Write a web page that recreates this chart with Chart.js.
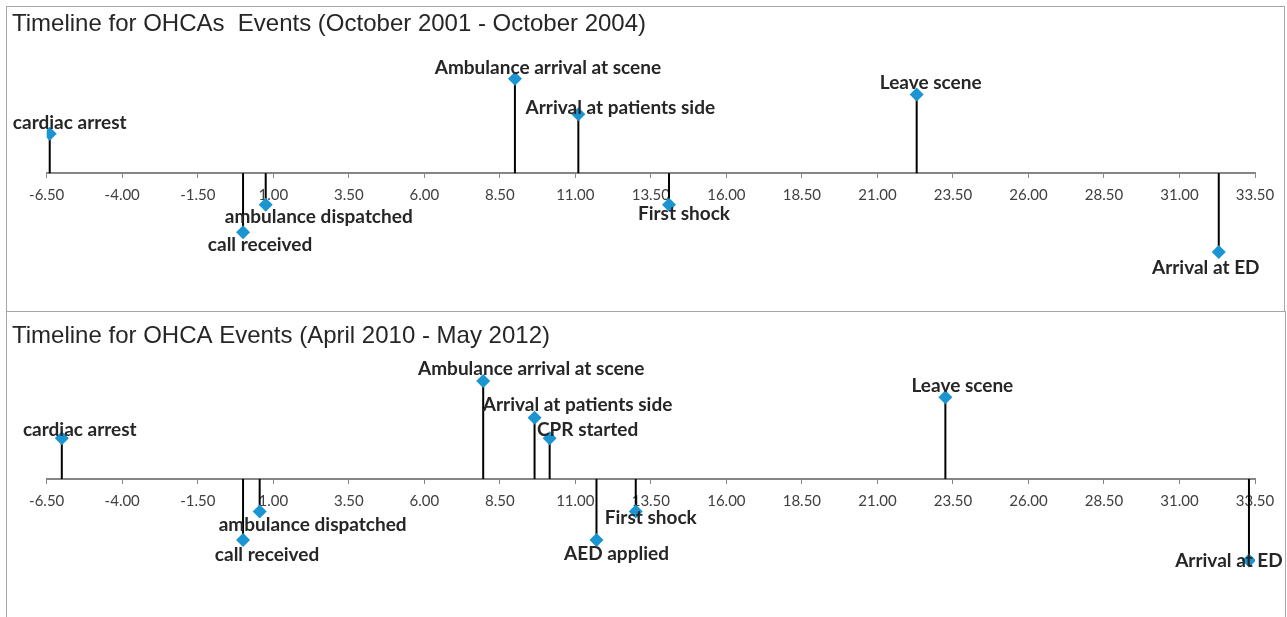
<!DOCTYPE html>
<html>
<head>
<meta charset="utf-8">
<script src="https://cdn.jsdelivr.net/npm/chart.js@4.4.0/dist/chart.umd.min.js"></script>
<style>
  html, body { margin: 0; padding: 0; background: #fff; }
  body { width: 1287px; height: 617px; position: relative; overflow: hidden; }
  .panel { position: absolute; border: 1.5px solid #a6a6a6; box-sizing: border-box; }
  canvas { position: absolute; left: 0; }
</style>
</head>
<body>
<div class="panel" style="left:6px;top:6px;width:1279px;height:306px"></div>
<div class="panel" style="left:6px;top:311px;width:1280px;height:320px"></div>
<canvas id="timeline1" width="1287" height="305" style="top:6px"></canvas>
<canvas id="timeline2" width="1287" height="306" style="top:311px"></canvas>
<script>
// minutes relative to the call (x) and the stem height used to spread the labels (y)
const title1 = 'Timeline for OHCAs  Events (October 2001 - October 2004)';
const events1 = ['cardiac arrest', 'call received', 'ambulance dispatched', 'Ambulance arrival at scene',
  'Arrival at patients side', 'First shock', 'Leave scene', 'Arrival at ED'];
const times1 = [-6.4, 0, 0.75, 9.0, 11.1, 14.1, 22.3, 32.3];
const heights1 = [2, -3, -1.6, 4.8, 3, -1.6, 4, -4];

const title2 = 'Timeline for OHCA Events (April 2010 - May 2012)';
const events2 = ['cardiac arrest', 'call received', 'ambulance dispatched', 'Ambulance arrival at scene',
  'Arrival at patients side', 'CPR started', 'AED applied', 'First shock', 'Leave scene', 'Arrival at ED'];
const times2 = [-6.0, 0, 0.55, 7.95, 9.65, 10.15, 11.7, 13.0, 23.25, 33.3];
const heights2 = [2, -3, -1.6, 4.8, 3, 2, -3, -1.6, 4, -4];

const xMin = -6.5;
const xMax = 33.5;
const xStep = 2.5;

// label placement relative to its marker (px), as in the original layout
const labelDx1 = [20, 17, 53, 33, 42, 15, 14, -13];
const labelDy1 = [-5, 19, 18, -5, 0, 15, -5, 22];
const labelDx2 = [18, 24, 53, 48, 43, 38, 20, 15, 17, -20];
const labelDy2 = [-2, 21, 19, -6, -7, -2, 20, 12, -5, 7];

const stemsAndLabels = {
  id: 'stemsAndLabels',
  beforeDatasetsDraw(chart) {
    const { ctx } = chart;
    const zero = chart.scales.y.getPixelForValue(0);
    ctx.save();
    ctx.strokeStyle = '#000';
    ctx.lineWidth = 2;
    chart.getDatasetMeta(0).data.forEach(pt => {
      ctx.beginPath();
      ctx.moveTo(pt.x, pt.y);
      ctx.lineTo(pt.x, zero);
      ctx.stroke();
    });
    ctx.restore();
  },
  afterDatasetsDraw(chart, args, opts) {
    const { ctx } = chart;
    ctx.save();
    ctx.font = 'bold 19px Lato';
    ctx.fillStyle = '#262626';
    ctx.textAlign = 'center';
    ctx.textBaseline = 'alphabetic';
    chart.getDatasetMeta(0).data.forEach((pt, i) => {
      ctx.fillText(opts.names[i], pt.x + opts.dx[i], pt.y + opts.dy[i]);
    });
    ctx.restore();
  }
};

function drawTimeline(id, title, names, times, heights, yMin, yMax, titlePad, dx, dy) {
  new Chart(document.getElementById(id), {
    type: 'scatter',
    data: {
      datasets: [{
        data: times.map((t, i) => ({ x: t, y: heights[i] })),
        pointStyle: 'rectRot',
        pointRadius: 7,
        pointHoverRadius: 7,
        backgroundColor: '#1b95d1',
        borderWidth: 0
      }]
    },
    options: {
      responsive: false,
      animation: false,
      layout: { padding: { left: 12, right: 32, top: 0, bottom: 0 } },
      plugins: {
        legend: { display: false },
        tooltip: { enabled: false },
        title: {
          display: true,
          text: title,
          align: 'start',
          color: '#262626',
          font: { family: 'Liberation Sans', size: 24, weight: 'normal', lineHeight: 1.2 },
          padding: titlePad
        },
        stemsAndLabels: { names: names, dx: dx, dy: dy }
      },
      scales: {
        x: {
          type: 'linear',
          position: { y: 0 },
          min: xMin,
          max: xMax,
          grid: { drawOnChartArea: false, drawTicks: true, tickLength: 4, color: '#868686' },
          border: { display: true, color: '#868686', width: 2 },
          ticks: {
            stepSize: xStep,
            autoSkip: false,
            maxRotation: 0,
            padding: 9,
            color: '#404040',
            font: { family: 'Lato', size: 15 },
            callback: v => v.toFixed(2)
          },
          afterFit: scale => {
            scale.height = 30;
            scale.paddingLeft = 0;
            scale.paddingRight = 0;
          }
        },
        y: {
          min: yMin,
          max: yMax,
          grid: { display: false },
          border: { display: false },
          ticks: { display: false },
          afterFit: scale => {
            scale.width = 34.7;
            scale.paddingTop = 0;
            scale.paddingBottom = 0;
          }
        }
      }
    },
    plugins: [stemsAndLabels]
  });
}

drawTimeline('timeline1', title1, events1, times1, heights1, -6.648, 6.209,
  { top: 3.7, bottom: 12.5 }, labelDx1, labelDy1);
drawTimeline('timeline2', title2, events2, times2, heights2, -6.428, 6.029,
  { top: 10.7, bottom: 5.5 }, labelDx2, labelDy2);
</script>
</body>
</html>
